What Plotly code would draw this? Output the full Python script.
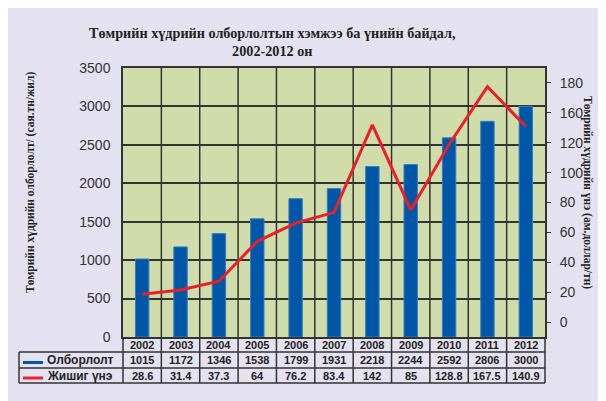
import plotly.graph_objects as go

years = ["2002", "2003", "2004", "2005", "2006", "2007", "2008", "2009", "2010", "2011", "2012"]
production = [1015, 1172, 1346, 1538, 1799, 1931, 2218, 2244, 2592, 2806, 3000]
price = [28.6, 31.4, 37.3, 64, 76.2, 83.4, 142, 85, 128.8, 167.5, 140.9]
price_labels = ["28.6", "31.4", "37.3", "64", "76.2", "83.4", "142", "85", "128.8", "167.5", "140.9"]
right_tick_text = ["0", "20", "40", "60", "80", "100", "120", "160", "180"]
right_tick_pos = [10, 30, 50, 70, 90, 110, 130, 150, 170]

title = "Төмрийн хүдрийн олборлолтын хэмжээ ба үнийн байдал,<br>2002-2012 он"
left_title = "Төмрийн хүдрийн олборлолт/ (сая.тн/жил)"
right_title = "Төмрийн хүдрийн үнэ (ам.доллар/тн)"
series_names = ["Олборлолт", "Жишиг үнэ"]

# page body has an 8px margin; figure is sized to fill the rest of the window
OX, OY = 8, 8
W, H = 598, 393
BG = "#E4E2F0"
PLOT = "#D0DCAA"
BLUE = "#0057A8"
RED = "#E8202A"
GRID = "#333333"
TXT = "#222222"

def px(x):
    return (x - OX) / W

def py(y):
    return 1 - (y - OY) / H

x0, x1 = 123, 545
y_top, y_bot = 68, 337
row1, row2, row3 = 352, 368, 383
cw = (x1 - x0) / len(years)

fig = go.Figure()
fig.add_trace(go.Bar(x=years, y=production, name=series_names[0], width=0.35,
                     marker=dict(color=BLUE, line=dict(color="#3A7CC0", width=1)),
                     yaxis="y"))
fig.add_trace(go.Scatter(x=years, y=price, name=series_names[1], mode="lines",
                         line=dict(color=RED, width=3), yaxis="y2"))

shapes = []
for i in range(len(years) - 1):
    shapes.append(dict(type="line", xref="x", yref="paper", x0=i + 0.5, x1=i + 0.5,
                       y0=py(row3), y1=py(y_top), line=dict(color=GRID, width=1.5), layer="below"))
for xx in (x0, x1):
    shapes.append(dict(type="line", xref="paper", yref="paper", x0=px(xx), x1=px(xx),
                       y0=py(row3), y1=py(y_bot), line=dict(color=GRID, width=1.5)))
shapes.append(dict(type="line", xref="paper", yref="paper", x0=px(19), x1=px(19),
                   y0=py(row3), y1=py(row1), line=dict(color=GRID, width=1.5)))
for yy in (row1, row2, row3):
    shapes.append(dict(type="line", xref="paper", yref="paper", x0=px(19), x1=px(x1),
                       y0=py(yy), y1=py(yy), line=dict(color=GRID, width=1.5)))
shapes.append(dict(type="line", xref="paper", yref="paper", x0=px(23), x1=px(43),
                   y0=py(362.5), y1=py(362.5), line=dict(color=BLUE, width=3)))
shapes.append(dict(type="line", xref="paper", yref="paper", x0=px(23), x1=px(43),
                   y0=py(378), y1=py(378), line=dict(color=RED, width=3)))

ann = []
ann.append(dict(text="<b>" + title + "</b>", xref="paper", yref="paper", x=px(272), y=py(42),
                showarrow=False, font=dict(family="Liberation Serif", size=14.2, color=TXT),
                xanchor="center", yanchor="middle"))
ann.append(dict(text="<b>" + left_title + "</b>", xref="paper", yref="paper", x=px(30), y=py(183),
                showarrow=False, textangle=-90, font=dict(family="Liberation Serif", size=11.5, color=TXT),
                xanchor="center", yanchor="middle"))
ann.append(dict(text="<b>" + right_title + "</b>", xref="paper", yref="paper", x=px(588), y=py(192),
                showarrow=False, textangle=90, font=dict(family="Liberation Serif", size=11.5, color=TXT),
                xanchor="center", yanchor="middle"))
tf = dict(family="Liberation Sans", size=11, color=TXT)
for i, yr in enumerate(years):
    cx = px(x0 + (i + 0.5) * cw)
    ann.append(dict(text="<b>" + yr + "</b>", xref="paper", yref="paper", x=cx, y=py(344.5),
                    showarrow=False, font=tf, xanchor="center", yanchor="middle"))
    ann.append(dict(text="<b>" + str(production[i]) + "</b>", xref="paper", yref="paper", x=cx, y=py(360),
                    showarrow=False, font=tf, xanchor="center", yanchor="middle"))
    ann.append(dict(text="<b>" + price_labels[i] + "</b>", xref="paper", yref="paper", x=cx, y=py(375.5),
                    showarrow=False, font=tf, xanchor="center", yanchor="middle"))
ann.append(dict(text="<b>" + series_names[0] + "</b>", xref="paper", yref="paper", x=px(45), y=py(360),
                showarrow=False, font=dict(family="Liberation Sans", size=12, color=TXT),
                xanchor="left", yanchor="middle"))
ann.append(dict(text="<b>" + series_names[1] + "</b>", xref="paper", yref="paper", x=px(45), y=py(375.5),
                showarrow=False, font=dict(family="Liberation Sans", size=12, color=TXT),
                xanchor="left", yanchor="middle"))

fig.update_layout(
    template="none",
    width=W, height=H, autosize=False, margin=dict(l=0, r=0, t=0, b=0, pad=0),
    paper_bgcolor=BG, plot_bgcolor=PLOT, showlegend=False,
    xaxis=dict(domain=[px(x0), px(x1)], type="category", range=[-0.5, 10.5], automargin=False,
               showticklabels=False, ticks="", showgrid=False, zeroline=False,
               showline=True, mirror=True, linecolor=GRID, linewidth=1.5),
    yaxis=dict(domain=[py(y_bot), py(y_top)], range=[0, 3500], dtick=500, automargin=False,
               showgrid=True, gridcolor=GRID, gridwidth=1.5, zeroline=False,
               showline=True, mirror=True, linecolor=GRID, linewidth=1.5,
               ticks="", ticklabelstandoff=8,
               tickfont=dict(family="Liberation Sans", size=14, color="#333333")),
    yaxis2=dict(overlaying="y", side="right", range=[0, 180], automargin=False,
                tickmode="array", tickvals=right_tick_pos, ticktext=right_tick_text,
                showgrid=False, zeroline=False, showline=False,
                ticks="outside", ticklen=5, tickcolor=GRID, tickwidth=1,
                ticklabelstandoff=6,
                tickfont=dict(family="Liberation Sans", size=14, color="#333333")),
    shapes=shapes, annotations=ann,
)

fig.write_html("out.html")
